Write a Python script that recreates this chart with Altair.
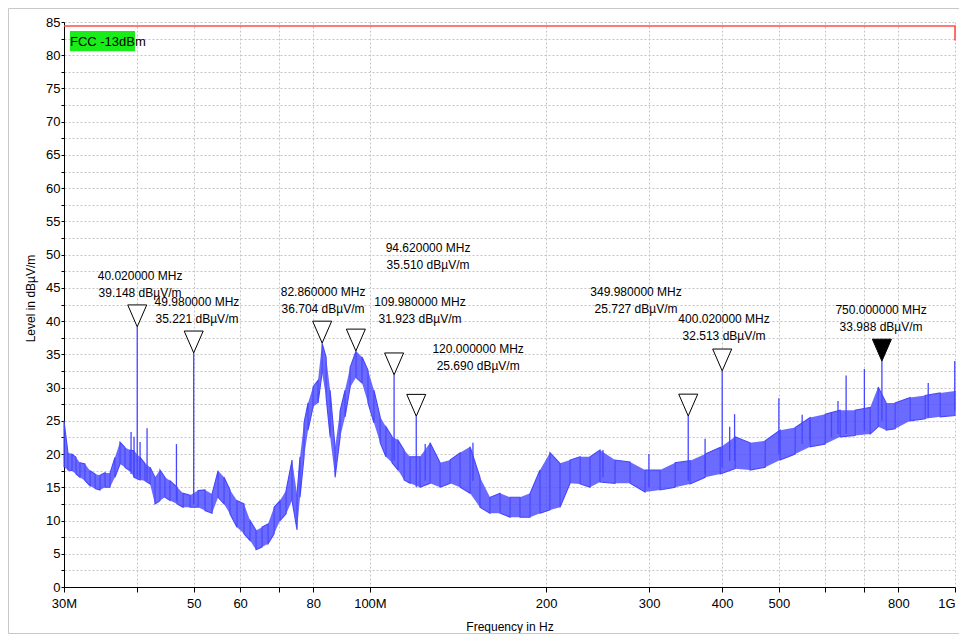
import altair as alt
import pandas as pd

# ---------------- data ----------------
# Measured trace: frequency (MHz) with the lower / upper edge of the noisy trace (dBµV/m)
freq_mhz = [
    30.0, 30.47, 30.96, 31.45, 31.95, 32.58, 33.24, 33.91, 34.57, 35.26,
    35.95, 36.66, 37.40, 38.14, 38.90, 39.52, 40.47, 41.26, 42.09, 42.92,
    43.77, 44.64, 45.53, 46.82, 47.94, 49.26, 50.85, 52.26, 53.73, 55.02,
    56.32, 57.65, 59.27, 60.92, 62.39, 63.88, 65.40, 66.98, 68.58, 70.21,
    71.89, 73.60, 75.06, 75.95, 77.16, 78.39, 79.94, 81.53, 82.84, 84.16,
    85.50, 87.19, 88.92, 90.67, 92.48, 94.68, 96.94, 99.25, 101.6, 104.1,
    106.5, 109.1, 111.7, 114.4, 117.1, 121.8, 126.7, 131.8, 137.1, 142.6,
    148.3, 154.2, 160.4, 166.9, 173.6, 180.5, 187.8, 195.3, 203.1, 211.3,
    219.8, 228.7, 237.8, 247.3, 262.4, 278.4, 295.3, 313.3, 332.4, 352.6,
    374.1, 396.9, 420.9, 446.5, 473.8, 502.5, 533.1, 565.5, 600.0, 636.4,
    675.0, 716.1, 739.1, 762.7, 790.1, 838.2, 889.2, 943.3, 1000.0,
]
level_lo = [
    18.0, 17.6, 17.5, 17.0, 16.5, 16.0, 15.2, 14.8, 14.6, 15.0,
    15.0, 16.5, 18.5, 18.0, 17.5, 16.5, 16.1, 16.0, 15.5, 12.5,
    13.0, 13.5, 13.0, 12.5, 12.0, 12.0, 12.0, 11.5, 11.1, 13.5,
    12.5, 11.0, 9.0, 8.0, 7.0, 5.6, 6.0, 6.5, 8.0, 10.0,
    11.0, 13.0, 8.6, 13.5, 19.6, 23.6, 27.1, 27.7, 32.2, 28.6,
    22.6, 16.5, 22.5, 25.6, 30.0, 31.5, 30.7, 27.7, 24.7, 21.7,
    19.6, 18.7, 17.6, 16.1, 15.6, 15.0, 15.6, 15.0, 15.6, 15.0,
    14.1, 12.0, 11.1, 11.1, 10.5, 10.5, 10.5, 11.1, 11.6, 12.0,
    15.6, 15.5, 15.0, 15.8, 15.6, 15.6, 14.3, 14.6, 15.0, 15.5,
    16.5, 17.0, 17.8, 17.6, 18.0, 19.1, 20.0, 21.1, 21.5, 22.6,
    22.8, 23.0, 24.1, 23.6, 23.8, 25.0, 25.3, 25.6, 25.8,
]
level_hi = [
    25.0, 20.2, 20.0, 19.5, 18.7, 18.5, 17.5, 17.0, 16.8, 17.2,
    17.1, 19.5, 21.8, 21.0, 20.6, 20.5, 19.5, 18.6, 18.0, 16.5,
    17.6, 16.5, 16.0, 15.0, 14.1, 13.8, 14.5, 14.6, 14.0, 17.5,
    16.5, 14.6, 13.0, 12.5, 10.0, 8.5, 9.0, 9.5, 12.0, 13.0,
    14.5, 19.1, 14.0, 19.6, 24.7, 27.7, 30.1, 31.1, 36.7, 34.6,
    29.6, 21.0, 26.5, 29.6, 33.0, 35.5, 34.6, 32.6, 29.6, 25.6,
    24.1, 22.6, 22.1, 20.6, 19.6, 19.6, 21.7, 18.7, 19.1, 20.2,
    21.1, 16.5, 13.5, 14.1, 13.5, 13.5, 14.1, 17.6, 20.2, 18.6,
    19.1, 19.6, 19.6, 20.6, 19.1, 18.8, 17.6, 17.6, 18.7, 19.0,
    20.0, 21.0, 22.6, 21.7, 22.0, 23.6, 24.0, 25.5, 26.0, 26.6,
    26.6, 27.0, 30.1, 27.7, 27.7, 28.5, 28.8, 29.2, 29.5,
]

# Narrow spikes: frequency (MHz), foot and top (dBµV/m)
spike_freq = [39.06, 39.52, 40.02, 40.47, 41.6, 46.7, 49.98, 109.98, 120.0, 124.3,
              150.0, 250.2, 299.8, 349.98, 374.0, 400.02, 412.0, 420.0, 500.0, 548.0,
              565.0, 615.0, 631.0, 651.5, 700.0, 750.0, 900.0, 999.0]
spike_base = [17.0, 16.5, 16.5, 16.5, 16.0, 13.0, 12.5, 19.0, 15.0, 16.0,
              16.0, 16.5, 15.0, 16.0, 17.0, 18.0, 19.0, 19.0, 20.0, 21.5,
              22.0, 22.5, 23.0, 23.0, 23.5, 25.0, 25.5, 26.5]
spike_top = [23.3, 22.6, 39.148, 21.8, 23.9, 21.5, 35.221, 31.923, 25.690, 21.5,
             21.7, 20.6, 20.0, 25.727, 22.3, 32.513, 24.1, 26.0, 28.4, 25.9,
             25.1, 26.2, 28.0, 31.8, 32.8, 33.988, 30.7, 34.0]

# Markers
marker_freq = [40.02, 49.98, 82.86, 94.62, 109.98, 120.0, 349.98, 400.02, 750.0]
marker_level = [39.148, 35.221, 36.704, 35.510, 31.923, 25.690, 25.727, 32.513, 33.988]
marker_active = [False, False, False, False, False, False, False, False, True]
# where each marker's two-line label sits (MHz, dBµV/m of the second line)
label_freq = [40.47, 50.63, 83.16, 125.7, 121.8, 153.1, 285.0, 403.0, 747.6]
label_level = [44.2, 40.3, 41.8, 48.4, 40.3, 33.25, 41.8, 37.76, 39.12]

# Limit line
limit_name = "FCC -13dBm"
limit_freq = [30.0, 1000.0, 1000.0]
limit_level = [84.4, 84.4, 82.2]
limit_tag_freq = [30.71, 39.67]      # left / right of the green tag
limit_tag_level = [80.6, 83.65]      # bottom / top of the green tag
limit_text_level = 82.0

# Axes
x_ticks = [30, 40, 50, 60, 70, 80, 100, 200, 300, 400, 500, 600, 700, 800, 1000]
x_tick_labels = ["30M", "", "50", "60", "", "80", "100M", "200", "300", "400", "500", "", "", "800", "1G"]
y_ticks = [i * 2.5 for i in range(35)]

# ---------------- build tables ----------------
trace = pd.DataFrame({"f": freq_mhz, "lo": level_lo, "hi": level_hi})
zz_rows = []
for i, (f, lo, hi) in enumerate(zip(freq_mhz, level_lo, level_hi)):
    pair = [lo, hi] if i % 2 == 0 else [hi, lo]
    for k, v in enumerate(pair):
        zz_rows.append({"f": f, "v": v, "o": 2 * i + k})
zigzag = pd.DataFrame(zz_rows)
spikes = pd.DataFrame({"f": spike_freq, "b": spike_base, "t": spike_top})
markers = pd.DataFrame({"f": marker_freq, "v": marker_level, "active": marker_active})
labels = pd.DataFrame({
    "f": label_freq, "v": label_level,
    "l1": [f"{f:.6f} MHz" for f in marker_freq],
    "l2": [f"{v:.3f} dBµV/m" for v in marker_level],
})
limit = pd.DataFrame({"f": limit_freq, "v": limit_level, "o": list(range(len(limit_freq)))})
tag = pd.DataFrame({"f0": [limit_tag_freq[0]], "f1": [limit_tag_freq[1]],
                    "v0": [limit_tag_level[0]], "v1": [limit_tag_level[1]],
                    "tv": [limit_text_level], "name": [limit_name]})

BLUE = "#4646ff"
FONT = "Liberation Sans"

label_expr = " : ".join(
    f"datum.value == {v} ? '{t}'" for v, t in zip(x_ticks, x_tick_labels)
) + " : ''"

x_scale = alt.Scale(type="log", domain=[30, 1000], nice=False)
y_scale = alt.Scale(domain=[0, 85], nice=False, zero=False)

x_axis = alt.Axis(
    values=x_ticks, labelExpr=label_expr, title="Frequency in Hz",
    grid=True, gridDash=[2, 2], gridColor="#c4c4c4", gridWidth=1,
    tickSize=5, tickColor="black", domainColor="black", domainWidth=1,
    labelFont=FONT, labelFontSize=13, labelColor="black", labelPadding=5,
    labelOverlap=False, labelFlush=False,
    labelAlign={"condition": {"test": "datum.value >= 1000", "value": "right"}, "value": "center"},
    titleFont=FONT, titleFontSize=12, titleFontWeight="normal", titleColor="black",
    titleY=39, titleBaseline="middle",
)
y_axis = alt.Axis(
    values=y_ticks, labelExpr="datum.value % 5 == 0 ? datum.label : ''",
    title="Level in dBµV/m",
    grid=True, gridDash=[2, 2], gridColor="#c4c4c4", gridWidth=1,
    tickSize=3, tickColor="black", domainColor="black", domainWidth=1,
    labelFont=FONT, labelFontSize=13, labelColor="black", labelPadding=1,
    labelOverlap=False,
    titleFont=FONT, titleFontSize=12, titleFontWeight="normal", titleColor="black",
    titleX=-34, titleY=276, titleAngle=270, titleBaseline="middle", titleAlign="center",
)


def X(field):
    return alt.X(f"{field}:Q", scale=x_scale, axis=x_axis)


def Y(field):
    return alt.Y(f"{field}:Q", scale=y_scale, axis=y_axis)


frame = alt.Chart(pd.DataFrame({"a": [0]})).mark_rect(
    fill=None, stroke="#c8c8c8", strokeWidth=1
).encode(x=alt.value(-55.5), x2=alt.value(1000), y=alt.value(-13.5), y2=alt.value(611.5))

limit_line = alt.Chart(limit).mark_line(color="#ff4d4d", strokeWidth=1.6).encode(
    x=X("f"), y=Y("v"), order="o:Q")

band = alt.Chart(trace).mark_area(color=BLUE, opacity=0.8).encode(
    x=X("f"), y=Y("lo"), y2="hi:Q")

zz = alt.Chart(zigzag).mark_line(color=BLUE, strokeWidth=1.1).encode(
    x=X("f"), y=Y("v"), order="o:Q")

spike_rules = alt.Chart(spikes).mark_rule(color=BLUE, strokeWidth=1.3).encode(
    x=X("f"), y=Y("b"), y2="t:Q")

tri = alt.Chart(markers).mark_point(
    shape="M-1,-2.3L1,-2.3L0,0Z", size=361, filled=True, opacity=1, strokeWidth=1
).encode(
    x=X("f"), y=Y("v"),
    fill=alt.condition("datum.active", alt.value("black"), alt.value("white")),
    stroke=alt.value("black"),
)

text1 = alt.Chart(labels).mark_text(
    font=FONT, fontSize=12, color="black", align="center", baseline="middle", dy=-17
).encode(x=X("f"), y=Y("v"), text="l1:N")
text2 = alt.Chart(labels).mark_text(
    font=FONT, fontSize=12, color="black", align="center", baseline="middle"
).encode(x=X("f"), y=Y("v"), text="l2:N")

tag_box = alt.Chart(tag).mark_rect(color="#19ec19").encode(
    x=X("f0"), x2="f1:Q", y=Y("v0"), y2="v1:Q")
tag_text = alt.Chart(tag).mark_text(
    font="Liberation Sans Narrow, Liberation Sans", fontSize=13, color="black",
    align="left", baseline="middle"
).encode(x=X("f0"), y=Y("tv"), text="name:N")

chart = alt.layer(
    frame, limit_line, band, zz, spike_rules, tri, text1, text2, tag_box, tag_text
).properties(
    width=891, height=565,
    padding={"left": 56, "top": 14, "right": 4, "bottom": 47},
    autosize=alt.AutoSizeParams(type="none"),
    background="white",
).configure_view(stroke=None)

chart.save("out.html", embed_options={"renderer": "svg", "actions": False})
